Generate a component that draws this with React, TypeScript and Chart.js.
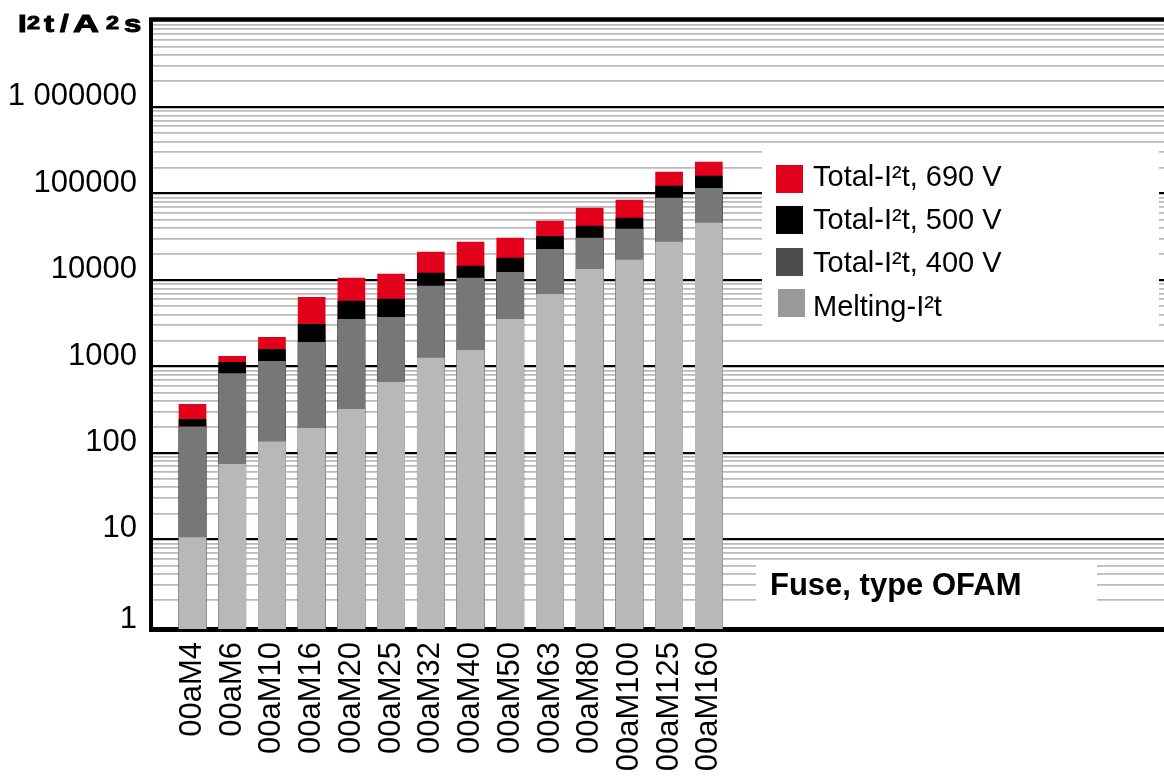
import React, { useEffect, useRef } from 'react';
import { Chart, registerables } from 'chart.js';

Chart.register(...registerables);

// Fuse sizes along the x axis
const fuses = [
  '00aM4', '00aM6', '00aM10', '00aM16', '00aM20', '00aM25', '00aM32',
  '00aM40', '00aM50', '00aM63', '00aM80', '00aM100', '00aM125', '00aM160',
];

// I²t values in A²s
const melting = [10.5, 74, 134, 193, 320, 655, 1250, 1540, 3500, 6850, 13300, 17000, 27400, 45400];
const total400 = [200, 830, 1150, 1900, 3500, 3700, 8500, 10500, 12300, 22700, 30500, 38700, 88500, 115000];
const total500 = [245, 1120, 1580, 3080, 5700, 6000, 12000, 14500, 17900, 32100, 42000, 52000, 122000, 159000];
const total690 = [365, 1310, 2180, 6300, 10500, 11700, 21000, 27400, 30500, 48000, 68000, 84000, 177000, 231000];

// Labelled decades on the y axis
const yTickValues = [1, 10, 100, 1000, 10000, 100000, 1000000];
const yTickText = ['1', '10', '100', '1000', '10000', '100000', '1 000000'];

// Legend entries (top to bottom)
const legendText = ['Total-I²t, 690 V', 'Total-I²t, 500 V', 'Total-I²t, 400 V', 'Melting-I²t'];
const legendColors = ['#e2001a', '#000000', '#4d4d4d', '#999999'];

const noteText = 'Fuse, type OFAM';

const FONT = '"Liberation Sans", Arial, Helvetica, sans-serif';

// every 1..9 step of each decade, for the log grid
const gridValues: number[] = [];
for (let k = 0; k < 7; k++) {
  const d = Math.pow(10, k);
  for (let m = 1; m <= 9; m++) gridValues.push(m * d);
}
const isDecade = (v: number) => yTickValues.includes(v);

const overlayPlugin = {
  id: 'overlay',
  afterDraw(chart: any) {
    const ctx = chart.ctx as CanvasRenderingContext2D;
    const { left, right, top } = chart.chartArea;
    ctx.save();

    // top frame line
    ctx.strokeStyle = '#000';
    ctx.lineWidth = 4.5;
    ctx.beginPath();
    ctx.moveTo(left - 2, top);
    ctx.lineTo(right, top);
    ctx.stroke();

    // axis title: I²t / A²s (wide, heavy lettering)
    ctx.fillStyle = '#000';
    ctx.strokeStyle = '#000';
    ctx.lineWidth = 1;
    ctx.textBaseline = 'alphabetic';
    ctx.textAlign = 'left';
    const parts: [string, number, boolean, number][] = [
      ['I', 18, true, 1.3], ['2', 27, false, 1.3], ['t', 44, true, 1.25], ['/', 60, true, 1.3],
      ['A', 73, true, 1.5], ['2', 106, false, 1.3], ['s', 124, true, 1.3],
    ];
    for (const [t, x, big, sx] of parts) {
      ctx.save();
      ctx.translate(x, big ? 32 : 28.5);
      ctx.scale(sx, 1);
      ctx.font = big ? `bold 24px ${FONT}` : `bold 18px ${FONT}`;
      ctx.fillText(t, 0, 0);
      ctx.strokeText(t, 0, 0);
      ctx.restore();
    }

    // legend panel
    ctx.fillStyle = '#fff';
    ctx.fillRect(762, 146, 397, 189);
    const swTop = [165, 206, 248, 289];
    const txBase = [186, 229, 272, 316];
    ctx.font = `29px ${FONT}`;
    legendText.forEach((t, i) => {
      ctx.fillStyle = legendColors[i];
      ctx.fillRect(i === 3 ? 778 : 776, swTop[i], 27, 28);
      ctx.fillStyle = '#000';
      ctx.fillText(t, 813, txBase[i]);
    });

    // note panel
    ctx.fillStyle = '#fff';
    ctx.fillRect(756, 561, 341, 62);
    ctx.fillStyle = '#000';
    ctx.font = `bold 31px ${FONT}`;
    ctx.fillText(noteText, 770, 595);

    ctx.restore();
  },
};

export default function App() {
  const ref = useRef<HTMLCanvasElement | null>(null);

  useEffect(() => {
    if (!ref.current) return;
    const toPoints = (arr: number[]) => arr.map((y, i) => ({ x: i, y }));
    const ds = (label: string, data: number[], color: string) => ({
      label,
      data: toPoints(data),
      backgroundColor: color,
      borderWidth: 0,
      grouped: false,
      barThickness: 27,
    });

    const chart = new Chart(ref.current, {
      type: 'bar',
      data: {
        datasets: [
          ds('Melting-I²t', melting, '#b8b8b8'),
          ds('Total-I²t, 400 V', total400, '#777777'),
          ds('Total-I²t, 500 V', total500, '#000000'),
          ds('Total-I²t, 690 V', total690, '#e2001a'),
        ],
      },
      options: {
        responsive: false,
        animation: false,
        layout: { padding: { top: 19.5, left: 0, right: 0, bottom: 0 } },
        plugins: { legend: { display: false }, tooltip: { enabled: false } },
        scales: {
          x: {
            type: 'linear',
            offset: false,
            min: -1.045,
            max: 24.46,
            grid: { display: false, drawTicks: false },
            border: { display: true, color: '#000', width: 5 },
            afterBuildTicks: (s: any) => {
              s.ticks = fuses.map((_, i) => ({ value: i }));
            },
            afterFit: (s: any) => {
              s.height = 154;
              s.paddingLeft = 0;
              s.paddingRight = 0;
            },
            ticks: {
              autoSkip: false,
              minRotation: 90,
              maxRotation: 90,
              padding: 13,
              color: '#000',
              font: { family: FONT, size: 31 },
              callback: (v: any) => fuses[v as number] ?? '',
            },
          },
          y: {
            type: 'logarithmic',
            min: 0.92,
            max: 1.03e7,
            afterBuildTicks: (s: any) => {
              s.ticks = gridValues.map((v) => ({ value: v }));
            },
            afterFit: (s: any) => {
              s.width = 151;
              s.paddingTop = 0;
              s.paddingBottom = 0;
            },
            grid: {
              drawTicks: false,
              color: (c: any) =>
                c.tick && c.tick.value === 1 ? 'rgba(0,0,0,0)' : isDecade(c.tick?.value) ? '#000' : '#bababa',
              lineWidth: (c: any) => (isDecade(c.tick?.value) ? 2.2 : 1.7),
            },
            border: { display: true, color: '#000', width: 4 },
            ticks: {
              autoSkip: false,
              padding: 14,
              labelOffset: -6,
              color: '#000',
              font: { family: FONT, size: 31, lineHeight: '9px' },
              // the two-line labels sit a little above their grid line; "1" sits closer to the axis
              callback: (v: any) => {
                const i = yTickValues.indexOf(v as number);
                if (i < 0) return '';
                return i === 0 ? yTickText[i] : [yTickText[i], ''];
              },
            },
          },
        },
      },
      plugins: [overlayPlugin],
    });
    return () => chart.destroy();
  }, []);

  return (
    <div style={{ position: 'fixed', left: 0, top: 0, width: 1164, height: 783, background: '#fff', overflow: 'hidden' }}>
      <canvas ref={ref} width={1164} height={783} style={{ display: 'block', width: 1164, height: 783 }} />
    </div>
  );
}
